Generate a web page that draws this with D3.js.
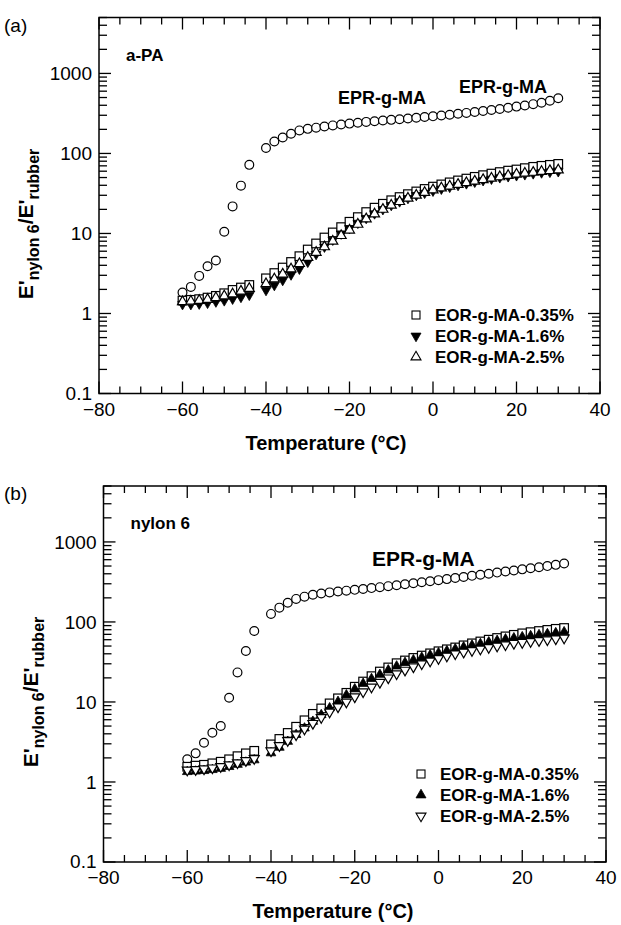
<!DOCTYPE html>
<html>
<head>
<meta charset="utf-8">
<script src="https://cdn.jsdelivr.net/npm/d3@7/dist/d3.min.js"></script>
<style>
  body { margin: 0; background: #fff; }
  svg { display: block; }
  text { font-family: "Liberation Sans", Arial, Helvetica, sans-serif; fill: #000; }
</style>
</head>
<body>
<svg id="chart" width="621" height="925"></svg>
<script>
// Temperatures (°C): readings every 2 °C, none taken at -42 °C
const temps = [-60,-58,-56,-54,-52,-50,-48,-46,-44,
  -40,-38,-36,-34,-32,-30,-28,-26,-24,-22,-20,-18,-16,-14,-12,-10,-8,-6,-4,-2,
  0,2,4,6,8,10,12,14,16,18,20,22,24,26,28,30];

// (a) a-PA matrix: modulus ratio E'nylon6 / E'rubber
const aEPR = [1.83,2.15,2.95,3.9,4.6,10.5,21.8,39.6,72,
  117,141,158,176,194,203,210,217,224,230,236,242,248,253,258,263,268,273,279,285,
  291,298,305,313,321,330,339,349,360,372,385,398,413,430,455,490];
const aEOR035 = [1.45,1.48,1.51,1.58,1.66,1.79,1.97,2.11,2.27,
  2.75,3.2,3.75,4.4,5.2,6.3,7.5,8.9,10.3,12.0,14.0,16.0,18.5,21.0,23.5,26.0,28.5,31,33.5,36,
  38.5,41,43.5,46,48.5,51,53.5,56,58.5,61,63,65.5,68,70,72,74];
const aEOR16 = [1.3,1.3,1.32,1.35,1.4,1.45,1.52,1.6,1.7,
  1.95,2.25,2.6,3.05,3.6,4.4,5.5,6.8,8.3,9.9,11.6,13.5,15.5,17.7,20,22.5,25,27.5,30,32,
  34,36,38,40,42,44,46,48,50,51.5,53,54.5,56,57.5,58.5,59.5];
const aEOR25 = [1.4,1.42,1.45,1.5,1.57,1.65,1.75,1.9,2.05,
  2.35,2.7,3.1,3.6,4.2,5.0,5.8,6.8,8.0,9.4,11.0,13.0,15.2,17.5,20,22.5,25,27.5,30,32.5,
  35,37,39,41,43,45,47,49,51,53,55,56.5,58,59.5,61,62];

// (b) nylon 6 matrix
const bEPR = [1.92,2.28,3.09,4.12,5.0,11.3,23.4,43.3,77,
  126,151,174,194,207,219,227,234,240,246,252,258,265,272,280,288,296,305,314,323,
  333,343,354,365,377,389,401,414,427,440,454,468,483,499,517,538];
const bEOR035 = [1.55,1.6,1.64,1.71,1.79,1.92,2.1,2.28,2.45,
  2.95,3.45,4.1,4.9,5.9,7.1,8.3,9.6,11.1,13.0,15.5,18,21,24,27,30.5,33,35.5,38,40.5,
  43,45.5,48,51,54,57,60,63,66,69,72,74.5,77,79.5,82,84];
const bEOR16 = [1.34,1.36,1.38,1.42,1.47,1.55,1.65,1.76,1.88,
  2.3,2.7,3.2,3.9,4.7,5.7,6.9,8.4,10.1,12.2,14.5,17,19.5,22,25,28,31,33.5,36,38.5,
  41,43.5,46,48.5,51,53.5,56,58.5,61,63,65,67,69,71,73,75];
const bEOR25 = [1.41,1.43,1.46,1.5,1.56,1.64,1.74,1.85,1.97,
  2.45,2.85,3.3,3.9,4.6,5.4,6.4,7.5,8.7,10,11.6,13.4,15.4,17.6,20,22.5,25,27.5,30,32.5,
  35,37.5,40,42,44,46,48,50,52,54,55.5,57,58.5,60,61.5,63];

// Axis ranges and tick labels
const xDomain = [-80, 40];
const yDomain = [0.1, 5000];
const xTickLabels = [-80, -60, -40, -20, 0, 20, 40];
const yTickLabels = [0.1, 1, 10, 100, 1000];

const legendA = ["EOR-g-MA-0.35%", "EOR-g-MA-1.6%", "EOR-g-MA-2.5%"];
const legendB = ["EOR-g-MA-0.35%", "EOR-g-MA-1.6%", "EOR-g-MA-2.5%"];

const svg = d3.select("#chart");
const fmt = v => (v < 0 ? "\u2212" + Math.abs(v) : String(v));

// Triangle path centred on its centroid; dir = 1 points up, -1 points down
function tri(s, dir) {
  const h = s * Math.sqrt(3) / 2;
  return `M0,${-dir * 2 * h / 3}L${s / 2},${dir * h / 3}L${-s / 2},${dir * h / 3}Z`;
}

function panel(cfg) {
  const g = svg.append("g");
  const x = d3.scaleLinear().domain(xDomain).range([cfg.left, cfg.right]);
  const y = d3.scaleLog().domain(yDomain).range([cfg.bottom, cfg.top]);

  // frame
  g.append("rect")
    .attr("x", cfg.left).attr("y", cfg.top)
    .attr("width", cfg.right - cfg.left).attr("height", cfg.bottom - cfg.top)
    .attr("fill", "none").attr("stroke", "#000").attr("stroke-width", 1.5);

  // x ticks (inward on bottom and top)
  const xt = d3.range(xDomain[0], xDomain[1] + 0.1, 5);
  xt.forEach(t => {
    const len = t % 20 === 0 ? 12 : 7;
    const px = x(t);
    g.append("line").attr("x1", px).attr("x2", px)
      .attr("y1", cfg.bottom).attr("y2", cfg.bottom - len)
      .attr("stroke", "#000").attr("stroke-width", 1.3);
    g.append("line").attr("x1", px).attr("x2", px)
      .attr("y1", cfg.top).attr("y2", cfg.top + len)
      .attr("stroke", "#000").attr("stroke-width", 1.3);
  });
  g.selectAll(null).data(xTickLabels).enter().append("text")
    .attr("x", d => x(d)).attr("y", cfg.bottom + 22)
    .attr("text-anchor", "middle").attr("font-size", 19)
    .text(fmt);

  // y ticks (log decades with 2..9 minors)
  const yt = [];
  for (let e = -1; e <= 3; e++) {
    for (let k = 1; k <= 9; k++) {
      const v = k * Math.pow(10, e);
      if (v <= yDomain[1]) yt.push({ v, major: k === 1 });
    }
  }
  yt.forEach(t => {
    const len = t.major ? 12 : 8;
    const py = y(t.v);
    g.append("line").attr("x1", cfg.left).attr("x2", cfg.left + len)
      .attr("y1", py).attr("y2", py).attr("stroke", "#000").attr("stroke-width", 1.3);
    g.append("line").attr("x1", cfg.right).attr("x2", cfg.right - len)
      .attr("y1", py).attr("y2", py).attr("stroke", "#000").attr("stroke-width", 1.3);
  });
  g.selectAll(null).data(yTickLabels).enter().append("text")
    .attr("x", cfg.left - 7).attr("y", d => y(d) + (d === 0.1 ? 6 : 7))
    .attr("text-anchor", "end").attr("font-size", 19)
    .text(d => String(d));

  // axis titles
  g.append("text")
    .attr("x", cfg.titleX).attr("y", cfg.bottom + 56)
    .attr("text-anchor", "middle").attr("font-size", 20).attr("font-weight", "bold")
    .text("Temperature (\u00B0C)");

  const yt2 = g.append("text")
    .attr("transform", `translate(${cfg.left - 66},${cfg.yTitleY}) rotate(-90)`)
    .attr("text-anchor", "middle").attr("font-weight", "bold");
  yt2.append("tspan").attr("font-size", 21).text("E'");
  yt2.append("tspan").attr("font-size", 16).attr("dy", 6).text("nylon 6");
  yt2.append("tspan").attr("font-size", 21).attr("dy", -6).text("/E'");
  yt2.append("tspan").attr("font-size", 16).attr("dy", 6).text("rubber");

  // panel tag and matrix name
  g.append("text").attr("x", 4).attr("y", cfg.top + 14).attr("font-size", 19).text(cfg.tag);
  g.append("text").attr("x", cfg.left + 27).attr("y", cfg.top + 43)
    .attr("font-size", 17).attr("font-weight", "bold").text(cfg.name);

  // EPR labels
  cfg.eprLabels.forEach(l => {
    g.append("text").attr("x", l.x).attr("y", l.y)
      .attr("font-size", l.size).attr("font-weight", "bold").text("EPR-g-MA");
  });

  const pts = vals => temps.map((t, i) => ({ t, v: vals[i] }));
  const sw = 1.2;

  // EPR-g-MA: open circles
  g.selectAll(null).data(pts(cfg.epr)).enter().append("circle")
    .attr("cx", d => x(d.t)).attr("cy", d => y(d.v)).attr("r", 4.4)
    .attr("fill", "#fff").attr("stroke", "#000").attr("stroke-width", sw);

  // EOR-g-MA-0.35%: open squares
  g.selectAll(null).data(pts(cfg.s035)).enter().append("rect")
    .attr("x", d => x(d.t) - 4.3).attr("y", d => y(d.v) - 4.3)
    .attr("width", 8.6).attr("height", 8.6)
    .attr("fill", "#fff").attr("stroke", "#000").attr("stroke-width", sw);

  // EOR-g-MA-1.6%: filled triangles
  g.selectAll(null).data(pts(cfg.s16)).enter().append("path")
    .attr("transform", d => `translate(${x(d.t)},${y(d.v)})`)
    .attr("d", tri(9.6, cfg.dir16))
    .attr("fill", "#000").attr("stroke", "#000").attr("stroke-width", 0.8);

  // EOR-g-MA-2.5%: open triangles
  g.selectAll(null).data(pts(cfg.s25)).enter().append("path")
    .attr("transform", d => `translate(${x(d.t)},${y(d.v)})`)
    .attr("d", tri(10, cfg.dir25))
    .attr("fill", "#fff").attr("stroke", "#000").attr("stroke-width", sw);

  // legend
  const lg = g.append("g");
  cfg.legend.forEach((name, i) => {
    const cy = cfg.legY + i * 21;
    const mx = cfg.legX;
    if (i === 0) {
      lg.append("rect").attr("x", mx - 4).attr("y", cy - 4).attr("width", 8).attr("height", 8)
        .attr("fill", "#fff").attr("stroke", "#000").attr("stroke-width", 1.1);
    } else if (i === 1) {
      lg.append("path").attr("transform", `translate(${mx},${cy})`).attr("d", tri(10, cfg.dir16))
        .attr("fill", "#000").attr("stroke", "#000").attr("stroke-width", 0.8);
    } else {
      lg.append("path").attr("transform", `translate(${mx},${cy})`).attr("d", tri(10, cfg.dir25))
        .attr("fill", "#fff").attr("stroke", "#000").attr("stroke-width", 1.1);
    }
    lg.append("text").attr("x", mx + 19).attr("y", cy + 6)
      .attr("font-size", 17).attr("font-weight", "bold").text(name);
  });
}

panel({
  left: 99, right: 600, top: 17.5, bottom: 393.5,
  tag: "(a)", name: "a-PA", titleX: 326, yTitleY: 224,
  epr: aEPR, s035: aEOR035, s16: aEOR16, s25: aEOR25,
  dir16: -1, dir25: 1,
  eprLabels: [{ x: 338, y: 104, size: 18 }, { x: 459, y: 93, size: 18 }],
  legend: legendA, legX: 416, legY: 315
});

panel({
  left: 103.5, right: 606, top: 486, bottom: 862,
  tag: "(b)", name: "nylon 6", titleX: 333, yTitleY: 692,
  epr: bEPR, s035: bEOR035, s16: bEOR16, s25: bEOR25,
  dir16: 1, dir25: -1,
  eprLabels: [{ x: 372, y: 566, size: 21 }],
  legend: legendB, legX: 421, legY: 774
});
</script>
</body>
</html>
